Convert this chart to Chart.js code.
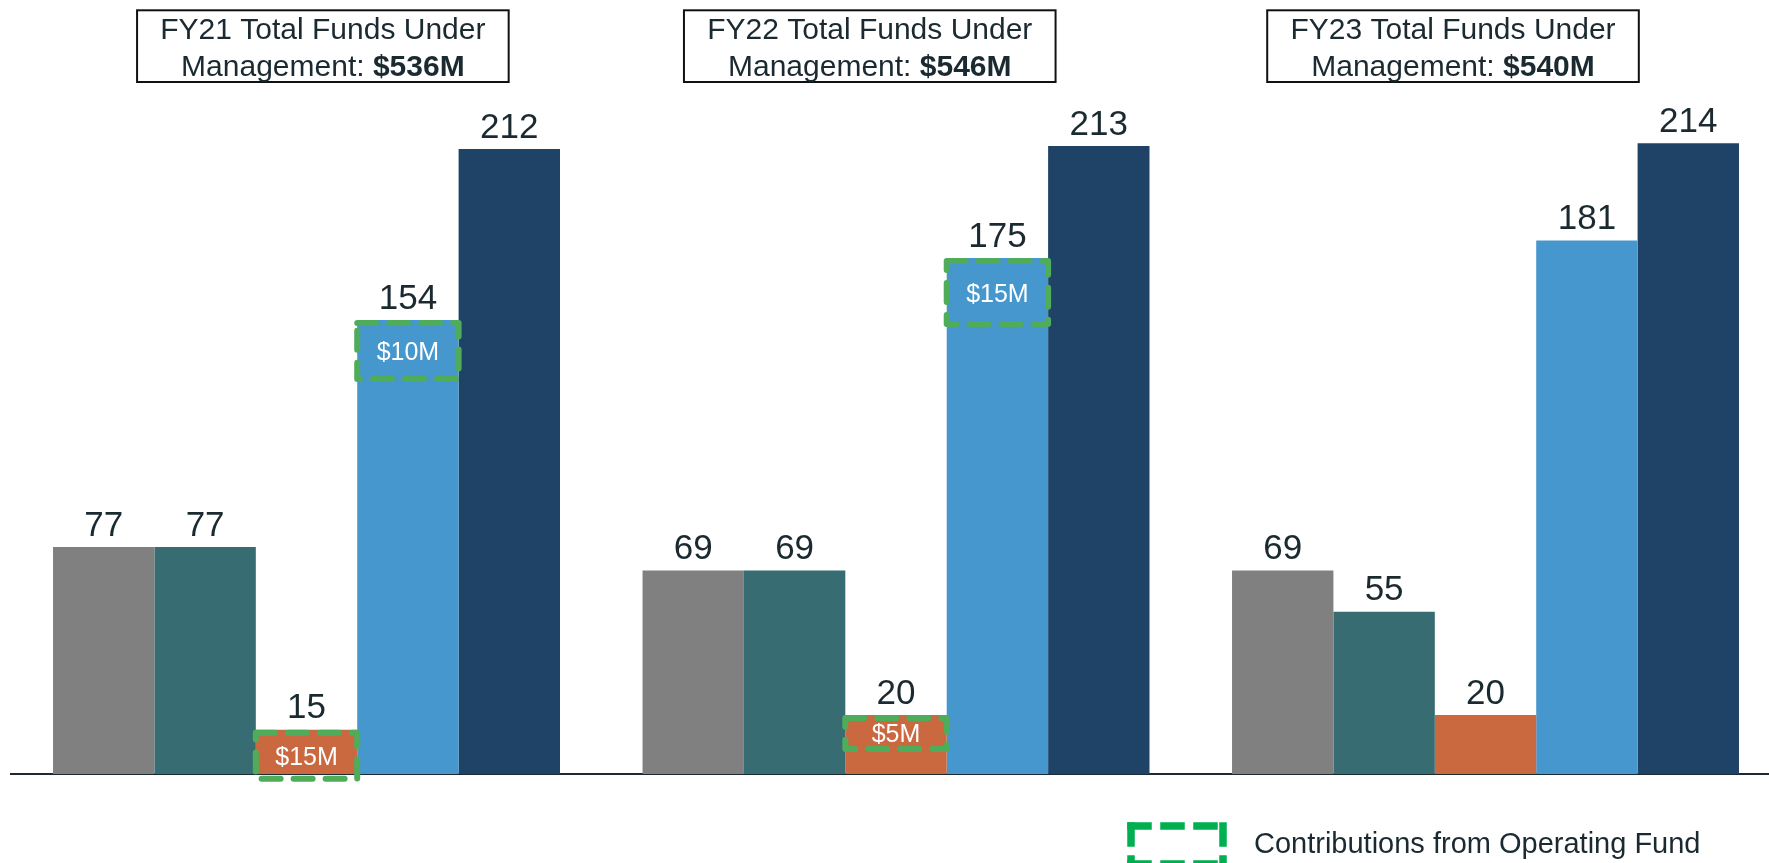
<!DOCTYPE html>
<html>
<head>
<meta charset="utf-8">
<script src="https://cdn.jsdelivr.net/npm/chart.js@4.4.1/dist/chart.umd.min.js"></script>
<style>
  html, body { margin: 0; padding: 0; background: #ffffff; overflow: hidden; }
  #wrap { position: relative; width: 1769px; height: 863px; }
</style>
</head>
<body>
<div id="wrap"><canvas id="c"></canvas></div>
<script>
// ---------- data ----------
const categories = ['FY21', 'FY22', 'FY23'];
const totalFunds = ['$536M', '$546M', '$540M'];
const seriesNames = ['Fund A', 'Fund B', 'Fund C', 'Fund D', 'Fund E'];
const fundA = [77, 69, 69];
const fundB = [77, 69, 55];
const fundC = [15, 20, 20];
const fundD = [154, 175, 181];
const fundE = [212, 213, 214];
const contribSeries = [2, 3, 2, 3];
const contribCategory = [0, 0, 1, 1];
const contribLabels = ['$15M', '$10M', '$5M', '$15M'];
const legendLabel = 'Contributions from Operating Fund';

// ---------- styles ----------
const FONT = "'Liberation Sans', Arial, Helvetica, sans-serif";
const TEXT = '#1b2a31';
const seriesColors = ['#808080', '#376d72', '#ca6840', '#4697cd', '#1f4367'];
const seriesValues = [fundA, fundB, fundC, fundD, fundE];

const datasets = seriesValues.map((vals, s) => ({
  label: seriesNames[s],
  data: vals.map((v, i) => ({ x: i, y: v })),
  backgroundColor: seriesColors[s],
  borderWidth: 0,
  categoryPercentage: 0.86,
  barPercentage: 1.0
}));

const valueLabels = {
  id: 'valueLabels',
  afterDatasetsDraw(chart, args, opts) {
    const ctx = chart.ctx;
    ctx.save();
    ctx.font = `${opts.size}px ${FONT}`;
    ctx.fillStyle = TEXT;
    ctx.textAlign = 'center';
    ctx.textBaseline = 'alphabetic';
    chart.data.datasets.forEach((ds, di) => {
      chart.getDatasetMeta(di).data.forEach((el, i) => {
        ctx.fillText(String(ds.data[i].y), el.x, el.y - opts.gap);
      });
    });
    ctx.restore();
  }
};

const contribBoxes = {
  id: 'contribBoxes',
  afterDatasetsDraw(chart, args, opts) {
    const ctx = chart.ctx;
    contribLabels.forEach((label, k) => {
      const el = chart.getDatasetMeta(contribSeries[k]).data[contribCategory[k]];
      const lw = opts.lineWidth;
      const left = el.x - el.width / 2;
      const right = el.x + el.width / 2;
      const top = el.y + lw / 2;
      const bottom = el.y + opts.heights[k] - lw / 2;
      ctx.save();
      ctx.strokeStyle = opts.color;
      ctx.lineWidth = lw;
      ctx.setLineDash(opts.dash);
      ctx.lineCap = 'round';
      ctx.lineJoin = 'round';
      ctx.beginPath();
      ctx.rect(left, top, right - left, bottom - top);
      ctx.stroke();
      ctx.setLineDash([]);
      ctx.font = `${opts.fontSize}px ${FONT}`;
      ctx.fillStyle = '#ffffff';
      ctx.textAlign = 'center';
      ctx.textBaseline = 'alphabetic';
      const cy = el.y + opts.heights[k] / 2;
      ctx.fillText(label, el.x, cy + opts.fontSize * 0.358);
      ctx.restore();
    });
  }
};

const headerBoxes = {
  id: 'headerBoxes',
  afterDraw(chart, args, opts) {
    const ctx = chart.ctx;
    const xs = chart.scales.x;
    categories.forEach((cat, i) => {
      const cx = xs.getPixelForValue(i) + opts.offsets[i];
      ctx.save();
      ctx.lineWidth = 2;
      ctx.strokeStyle = '#111111';
      ctx.strokeRect(cx - opts.width / 2, opts.top, opts.width, opts.height);
      ctx.fillStyle = TEXT;
      ctx.textBaseline = 'alphabetic';
      ctx.textAlign = 'center';
      ctx.font = `${opts.fontSize}px ${FONT}`;
      ctx.fillText(`${cat} Total Funds Under`, cx, opts.line1);
      const a = 'Management: ';
      const wa = ctx.measureText(a).width;
      ctx.font = `bold ${opts.fontSize}px ${FONT}`;
      const wb = ctx.measureText(totalFunds[i]).width;
      const x0 = cx - (wa + wb) / 2;
      ctx.textAlign = 'left';
      ctx.font = `${opts.fontSize}px ${FONT}`;
      ctx.fillText(a, x0, opts.line2);
      ctx.font = `bold ${opts.fontSize}px ${FONT}`;
      ctx.fillText(totalFunds[i], x0 + wa, opts.line2);
      ctx.restore();
    });
  }
};

const contribLegend = {
  id: 'contribLegend',
  afterDraw(chart, args, opts) {
    const ctx = chart.ctx;
    const { x, y, w, h } = opts;
    const sides = [
      [x, y, x + w, y],
      [x, y, x, y + h],
      [x + w, y, x + w, y + h],
      [x, y + h, x + w, y + h]
    ];
    ctx.save();
    ctx.strokeStyle = opts.color;
    ctx.lineWidth = opts.lineWidth;
    ctx.lineCap = 'square';
    ctx.setLineDash(opts.dash);
    sides.forEach(([x1, y1, x2, y2]) => {
      ctx.beginPath();
      ctx.moveTo(x1, y1);
      ctx.lineTo(x2, y2);
      ctx.stroke();
    });
    ctx.setLineDash([]);
    ctx.fillStyle = TEXT;
    ctx.font = `${opts.fontSize}px ${FONT}`;
    ctx.textAlign = 'left';
    ctx.textBaseline = 'alphabetic';
    ctx.fillText(legendLabel, opts.textX, opts.textY);
    ctx.restore();
  }
};

new Chart(document.getElementById('c'), {
  type: 'bar',
  data: { datasets },
  options: {
    responsive: true,
    maintainAspectRatio: false,
    animation: false,
    layout: { padding: { top: 37, bottom: 81, left: 11, right: 0 } },
    scales: {
      x: {
        type: 'linear',
        offset: false,
        bounds: 'data',
        min: -0.5013,
        max: 2.4809,
        grid: { display: false, offset: false },
        ticks: { display: false },
        border: { display: true, color: '#1c2a33', width: 2 },
        afterBuildTicks: (scale) => { scale.ticks = categories.map((c, i) => ({ value: i })); }
      },
      y: {
        display: false,
        min: 0,
        max: 250
      }
    },
    plugins: {
      legend: { display: false },
      tooltip: { enabled: false },
      title: { display: false },
      valueLabels: { size: 35, gap: 11.5 },
      contribBoxes: { color: '#4fac5b', lineWidth: 6, dash: [19, 13], heights: [52, 62, 37, 69], fontSize: 25 },
      headerBoxes: { offsets: [16.35, -26.25, -32.5], width: 371.6, top: 10.3, height: 71.7, fontSize: 30, line1: 38.5, line2: 76 },
      contribLegend: { color: '#00b050', lineWidth: 7.5, dash: [17, 16], x: 1131, y: 826, w: 92, h: 38, fontSize: 29, textX: 1254, textY: 853 }
    }
  },
  plugins: [valueLabels, contribBoxes, headerBoxes, contribLegend]
});
</script>
</body>
</html>
